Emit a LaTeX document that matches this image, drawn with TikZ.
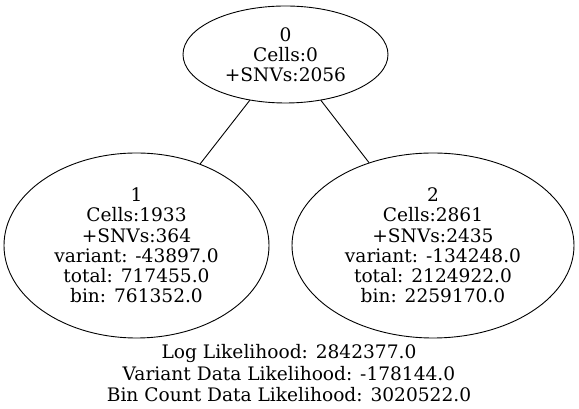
\documentclass[tikz,border=0pt]{standalone}
\usepackage{fontspec}
\setmainfont{DejaVu Serif}
\usetikzlibrary{shapes.geometric}
\begin{document}
\begin{tikzpicture}[x=1pt,y=1pt,
  tnode/.style={ellipse,draw,line width=0.9pt,inner sep=0pt,align=center,font=\fontsize{18.6}{20.2}\selectfont},
  edge/.style={draw,line width=0.9pt}]
\useasboundingbox (0,0) rectangle (579,409);
\node[tnode,minimum width=205,minimum height=97] (n0) at (285.5,354.5) {0\\Cells:0\\+SNVs:2056};
\node[tnode,minimum width=265,minimum height=185] (n1) at (136.5,163.5) {1\\Cells:1933\\+SNVs:364\\variant: -43897.0\\total: 717455.0\\bin: 761352.0};
\node[tnode,minimum width=282,minimum height=185] (n2) at (433,163.5) {2\\Cells:2861\\+SNVs:2435\\variant: -134248.0\\total: 2124922.0\\bin: 2259170.0};
\node[align=center,inner sep=0pt,font=\fontsize{18.6}{21.5}\selectfont] (lbl) at (289,35.5) {Log Likelihood: 2842377.0\\Variant Data Likelihood: -178144.0\\Bin Count Data Likelihood: 3020522.0};
\draw[edge] (n0) -- (n1);
\draw[edge] (n0) -- (n2);
\end{tikzpicture}
\end{document}
